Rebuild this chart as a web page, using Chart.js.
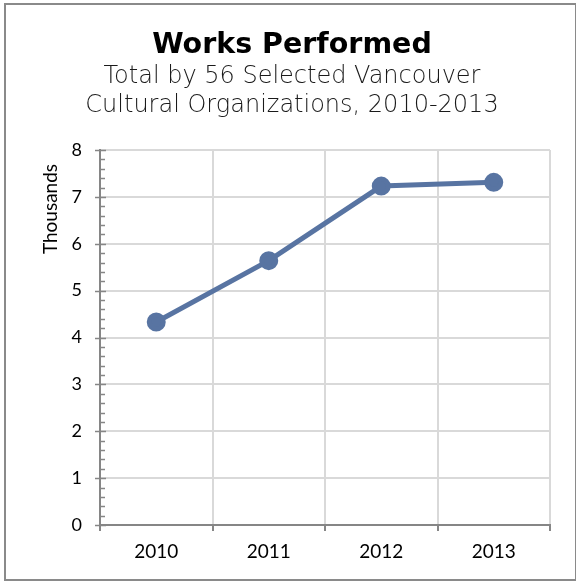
<!DOCTYPE html>
<html>
<head>
<meta charset="utf-8">
<script src="https://cdn.jsdelivr.net/npm/chart.js@4.4.0/dist/chart.umd.min.js"></script>
<style>
  html, body { margin: 0; padding: 0; background: #fff; }
  #wrap { position: absolute; left: 0; top: 0; width: 576px; height: 581px; }
  #frame { position: absolute; left: 4px; top: 3px; width: 569px; height: 574px; border: 2px solid #8a8a8a; pointer-events: none; }
</style>
</head>
<body>
<div id="wrap">
  <canvas id="lineChart" width="576" height="581"></canvas>
  <div id="frame"></div>
</div>
<script>
// data
const years = ["2010", "2011", "2012", "2013"];
const worksThousands = [4.33, 5.64, 7.23, 7.31];
const yTicks = [0, 1, 2, 3, 4, 5, 6, 7, 8];

const titleText = "Works Performed";
const subtitleLines = ["Total by 56 Selected Vancouver", "Cultural Organizations, 2010-2013"];
const yTitle = "Thousands";

const axisGray = "#868686";
const gridGray = "#d9d9d9";

// titles, minor ticks and y title
const extras = {
  id: "extras",
  afterDraw(chart) {
    const ctx = chart.ctx;
    const y = chart.scales.y;
    const left = chart.chartArea.left;
    ctx.save();
    ctx.strokeStyle = axisGray;
    ctx.lineWidth = 1.5;
    for (let i = 0; i <= 40; i++) {
      const v = i / 5;
      const py = Math.round(y.getPixelForValue(v)) + 0.5;
      ctx.beginPath();
      if (i % 5 === 0) {
        ctx.moveTo(left - 5, py);
        ctx.lineTo(left + 6, py);
      } else {
        ctx.moveTo(left, py);
        ctx.lineTo(left + 5, py);
      }
      ctx.stroke();
    }

    ctx.fillStyle = "#000";
    ctx.textAlign = "center";
    ctx.textBaseline = "alphabetic";
    ctx.font = "bold 28.5px 'DejaVu Sans'";
    ctx.fillText(titleText, 292, 53);
    ctx.fillStyle = "#1a1a1a";
    ctx.font = "200 24px 'DejaVu Sans'";
    ctx.fillText(subtitleLines[0], 292, 83);
    ctx.fillText(subtitleLines[1], 292, 112);

    ctx.fillStyle = "#000";
    ctx.translate(51, 209);
    ctx.rotate(-Math.PI / 2);
    ctx.font = "19px Lato";
    ctx.textBaseline = "middle";
    ctx.fillText(yTitle, 0, 0);
    ctx.restore();
  }
};

const config = {
  type: "line",
  data: {
    labels: years,
    datasets: [{
      label: titleText,
      data: worksThousands,
      borderColor: "#5874a2",
      backgroundColor: "#5874a2",
      borderWidth: 5,
      pointRadius: 7,
      pointHoverRadius: 7,
      tension: 0,
    }],
  },
  options: {
    responsive: false,
    animation: false,
    layout: { padding: { top: 150, right: 26, bottom: 0, left: 0 } },
    plugins: {
      legend: { display: false },
      tooltip: { enabled: false },
    },
    scales: {
      x: {
        offset: true,
        grid: {
          offset: true,
          color: gridGray,
          lineWidth: 2,
          tickColor: axisGray,
          tickLength: 6,
          tickWidth: 2,
        },
        border: { color: axisGray, width: 2 },
        ticks: { color: "#000", font: { family: "Lato", size: 19 }, padding: 9 },
        afterFit(scale) { scale.height = 56; },
      },
      y: {
        min: 0,
        max: 8,
        afterBuildTicks(scale) { scale.ticks = yTicks.map(v => ({ value: v })); },
        grid: { color: gridGray, lineWidth: 2, drawTicks: false },
        border: { color: axisGray, width: 2 },
        ticks: { color: "#000", font: { family: "Lato", size: 18 }, padding: 18 },
        afterFit(scale) { scale.width = 100; },
      },
    },
  },
  plugins: [extras],
};

const lineChart = new Chart(document.getElementById("lineChart"), config);
</script>
</body>
</html>
